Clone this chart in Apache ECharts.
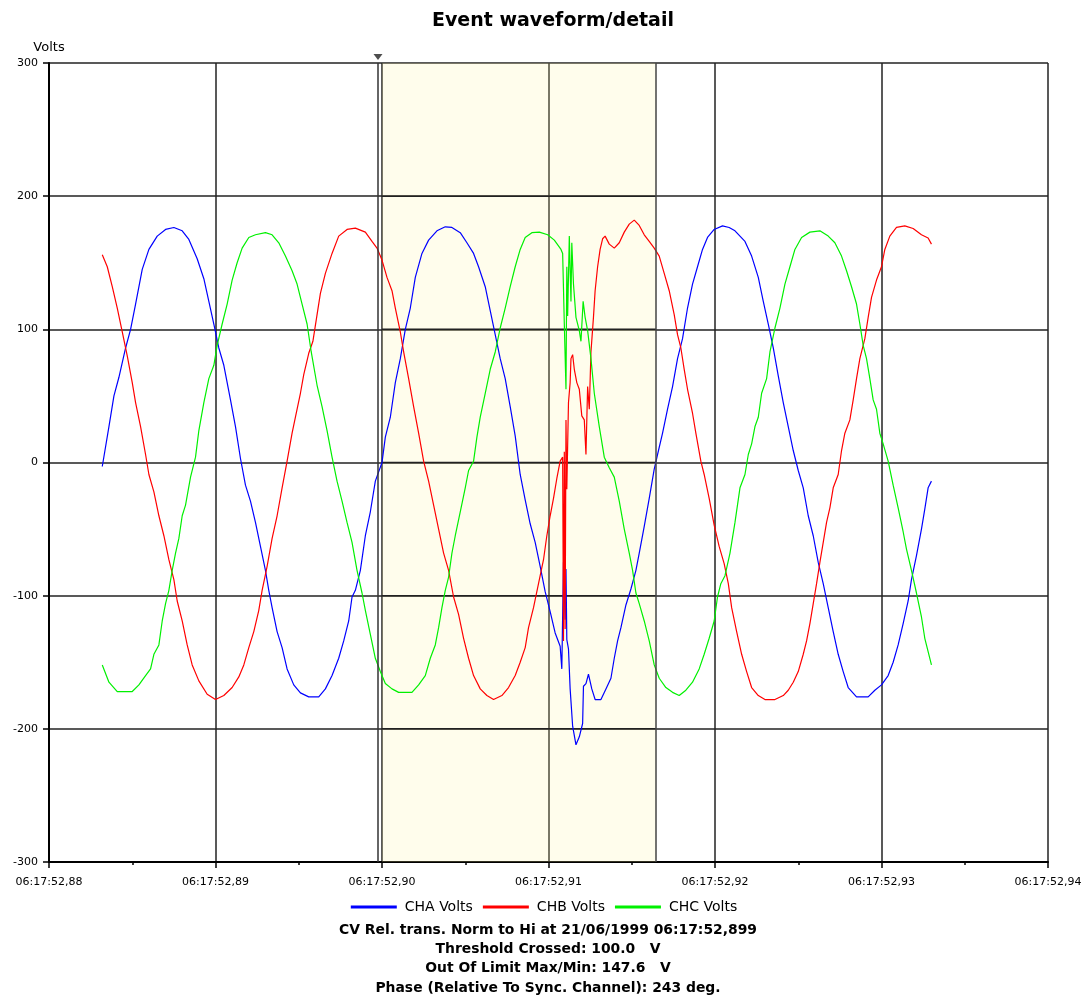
<!DOCTYPE html>
<html><head><meta charset="utf-8">
<script src="https://cdn.jsdelivr.net/npm/echarts@6/dist/echarts.min.js"></script>
<style>html,body{margin:0;padding:0;background:#fff}#chart{width:1088px;height:1008px}</style>
</head><body><div id="chart"></div>
<script>
// time axis: milliseconds after 06:17:52,880
const xTickLabels = ['06:17:52,88','06:17:52,89','06:17:52,90','06:17:52,91','06:17:52,92','06:17:52,93','06:17:52,94'];
const seriesNames = ['CHA Volts','CHB Volts','CHC Volts'];
const titleText = 'Event waveform/detail';
const yAxisName = 'Volts';
const footerLines = [
  'CV Rel. trans. Norm to Hi at 21/06/1999 06:17:52,899',
  'Threshold Crossed: 100.0   V',
  'Out Of Limit Max/Min: 147.6   V',
  'Phase (Relative To Sync. Channel): 243 deg.'
];
const bandRange = [20, 36.46];
const triggerTime = 19.76;
const yGridValues = [-200, -100, 0, 100, 200];

const chaTime = [3.2,3.6,3.9,4.2,4.6,4.9,5.2,5.6,6.0,6.5,7.0,7.5,8.0,8.4,8.9,9.3,9.6,9.9,10.2,10.5,10.9,11.2,11.5,11.8,12.1,12.4,12.7,13.0,13.2,13.4,13.7,14.0,14.3,14.7,15.1,15.6,16.2,16.6,17.0,17.4,17.7,18.0,18.2,18.4,18.7,19.0,19.3,19.6,20.0,20.2,20.5,20.8,21.1,21.4,21.7,22.0,22.4,22.8,23.3,23.8,24.2,24.7,25.1,25.5,25.8,26.2,26.5,26.8,27.1,27.4,27.7,28.0,28.3,28.6,28.9,29.2,29.5,29.8,30.1,30.4,30.7,30.8,30.9,31.0,31.05,31.1,31.2,31.3,31.45,31.65,31.85,32.05,32.1,32.25,32.4,32.6,32.8,33.15,33.45,33.75,33.95,34.15,34.35,34.65,34.95,35.25,35.45,35.75,36.05,36.35,36.55,36.85,37.15,37.45,37.75,38.05,38.35,38.65,38.95,39.25,39.55,39.95,40.45,40.85,41.2,41.8,42.2,42.6,42.9,43.2,43.5,43.8,44.1,44.4,44.7,45.0,45.3,45.6,45.9,46.2,46.5,46.8,47.1,47.4,47.7,48.0,48.5,49.2,49.6,50.0,50.4,50.7,51.0,51.3,51.6,51.8,52.1,52.4,52.6,52.8,53.0];
const chaVolts = [-3,27,50,64,86,100,119,145,160,170,175,176.5,174,167.5,153,138,121,104,86,73,47,27,3,-17,-29,-45,-63,-81,-96,-109,-127,-139,-155,-167,-173,-176,-176,-170,-160,-147,-134,-119,-101,-96,-81,-55,-37,-14,0,19,34,60,78,100,116,139,157,167,174,177,176.5,172.6,165,157,147,132,114,96,78,63,42,20,-9,-28,-46,-60,-78,-97,-112,-128,-138,-155,-75,-118,-80,-133,-140,-170,-198,-212,-206,-196,-168,-166,-159,-170,-178,-178,-170,-162,-147,-134,-124,-107,-95,-81,-68,-48,-27,-5,6,22,40,57,78,93,116,134,147,160,169,175,177.7,176.5,174,166,155,139,121,104,86,65,45,27,9,-6,-19,-40,-55,-75,-91,-109,-127,-144,-157,-169,-176,-176,-171,-167,-160,-150,-137,-121,-104,-88,-70,-50,-35,-19,-14];

const chbTime = [3.2,3.5,3.8,4.1,4.4,4.7,5.0,5.2,5.5,5.8,6.0,6.3,6.6,6.9,7.2,7.5,7.7,8.0,8.3,8.6,9.0,9.5,10.0,10.5,11.0,11.4,11.7,12.0,12.3,12.6,12.8,13.1,13.4,13.7,14.0,14.3,14.6,14.8,15.1,15.3,15.6,15.85,16.1,16.3,16.6,17.0,17.4,17.9,18.4,19.0,19.4,19.7,20.0,20.3,20.6,20.8,21.1,21.3,21.6,21.9,22.2,22.5,22.8,23.1,23.4,23.7,24.0,24.3,24.6,24.9,25.2,25.5,25.9,26.3,26.7,27.2,27.6,28.0,28.3,28.6,28.8,29.1,29.4,29.7,29.9,30.1,30.3,30.5,30.7,30.85,30.9,30.95,31.0,31.05,31.1,31.2,31.3,31.35,31.45,31.55,31.7,31.85,32.0,32.15,32.25,32.35,32.45,32.55,32.7,32.8,32.95,33.1,33.25,33.4,33.65,33.95,34.25,34.55,34.85,35.15,35.45,35.75,36.05,36.35,36.65,36.95,37.25,37.55,37.75,37.95,38.15,38.35,38.65,38.85,39.15,39.35,39.65,39.95,40.25,40.55,40.8,41.0,41.3,41.6,41.9,42.2,42.6,43.0,43.6,44.1,44.4,44.7,45.0,45.3,45.5,45.7,45.9,46.1,46.3,46.5,46.7,46.9,47.1,47.4,47.6,47.8,48.1,48.3,48.5,48.7,49.0,49.2,49.4,49.7,50.0,50.2,50.5,50.9,51.4,51.9,52.4,52.8,53.0];
const chbVolts = [156,147,132,116,98,80,60,45,27,6,-9,-22,-40,-55,-73,-88,-104,-119,-137,-152,-164,-174,-178,-175,-169,-161,-152,-139,-127,-111,-96,-78,-57,-40,-19,1,22,34,52,66,82,91,111,127,142,157,170,175,176,173,166,161,152,139,129,116,98,83,63,42,22,1,-14,-32,-50,-68,-81,-101,-114,-132,-147,-160,-170,-175,-178,-175,-169,-160,-150,-139,-124,-109,-91,-73,-55,-40,-27,-12,1,4,-134,8,-125,32,-20,45,60,78,81,70,60,55,35,32,6,57,40,83,109,129,147,160,168,170,164,161,165,173,179,182,178,171,166,161,155,142,129,111,96,86,70,55,37,22,1,-9,-27,-47,-63,-76,-91,-109,-127,-144,-157,-169,-175,-178,-178,-175,-171,-165,-157,-144,-134,-121,-106,-91,-75,-60,-45,-34,-19,-9,9,22,32,47,63,78,93,109,124,137,147,160,170,176.5,177.7,175.7,171,168.6,164];

const chcTime = [3.2,3.6,4.1,5.0,5.4,5.8,6.1,6.3,6.6,6.8,7.0,7.2,7.4,7.6,7.8,8.0,8.2,8.5,8.8,9.0,9.3,9.6,9.9,10.1,10.4,10.7,11.0,11.3,11.6,12.0,12.4,13.0,13.4,13.8,14.2,14.6,14.9,15.2,15.5,15.75,16.1,16.4,16.7,17.0,17.3,17.6,17.9,18.2,18.5,18.8,19.0,19.3,19.6,19.9,20.2,20.6,21.0,21.8,22.2,22.6,22.9,23.2,23.4,23.6,23.8,24.0,24.2,24.4,24.7,25.0,25.2,25.5,25.7,25.9,26.2,26.5,26.8,27.1,27.4,27.7,28.0,28.3,28.6,29.0,29.45,29.95,30.35,30.75,30.85,30.95,31.05,31.1,31.15,31.25,31.35,31.4,31.5,31.65,31.85,31.95,32.08,32.2,32.35,32.55,32.75,33.05,33.35,33.65,33.95,34.25,34.55,34.85,35.05,35.25,35.45,35.75,36.05,36.35,36.65,37.05,37.45,37.85,38.25,38.65,39.05,39.35,39.65,39.95,40.15,40.35,40.6,40.9,41.2,41.5,41.8,42.0,42.2,42.4,42.6,42.8,43.1,43.3,43.6,43.9,44.2,44.5,44.8,45.2,45.7,46.3,46.8,47.2,47.6,47.9,48.2,48.5,48.7,48.9,49.1,49.3,49.5,49.7,49.9,50.1,50.4,50.7,51.0,51.3,51.5,51.8,52.1,52.4,52.6,52.8,53.0];
const chcVolts = [-152,-165,-172,-172,-167,-160,-155,-144,-137,-119,-106,-96,-81,-68,-57,-40,-32,-11,4,24,45,63,73,88,104,119,137,150,161,169,171,172.6,171,165,155,144,134,119,104,83,58,42,24,4,-14,-29,-45,-60,-81,-98,-111,-129,-147,-157,-166,-170,-172.6,-172.6,-167,-160,-147,-137,-124,-109,-96,-86,-68,-55,-37,-19,-6,1,19,34,52,70,83,101,116,132,147,160,169,172.6,173,171,167,160,157,104,55,147,110,170,121,165,134,109,99,91,121,109,99,78,52,27,4,-4,-11,-29,-50,-68,-81,-98,-106,-119,-134,-152,-162,-169,-172.6,-175,-171,-165,-155,-144,-132,-119,-101,-91,-85,-68,-45,-19,-9,6,14,27,34,52,63,83,101,116,134,147,160,169,173,174,170,165,155,144,132,119,104,88,78,63,47,40,22,14,1,-17,-34,-52,-65,-81,-98,-116,-132,-142,-152];

const seriesColors = ['#0000ff', '#ff0000', '#00f000'];
const pair = (ts, vs) => ts.map((t, i) => [t, vs[i]]);
const font = '"DejaVu Sans", Verdana, sans-serif';
const gridColor = '#222';

const chart = echarts.init(document.getElementById('chart'), null, {renderer: 'canvas'});
const waveData = [pair(chaTime, chaVolts), pair(chbTime, chbVolts), pair(chcTime, chcVolts)];

const gridLineSeries = yGridValues.map(v => ({
  name: 'grid' + v, type: 'line', z: 2, silent: true,
  data: [[bandRange[0], v], [bandRange[1], v]],
  showSymbol: false, symbol: 'none',
  lineStyle: {color: gridColor, width: 1.5},
  emphasis: {disabled: true}
}));

const option = {
  animation: false,
  backgroundColor: '#ffffff',
  title: {
    text: titleText, left: 427, top: 7,
    textStyle: {fontFamily: font, fontSize: 19, fontWeight: 'bold', color: '#000'}
  },
  legend: {
    data: seriesNames, top: 895, left: 'center',
    icon: 'rect', itemWidth: 46, itemHeight: 3, itemGap: 10,
    textStyle: {fontFamily: font, fontSize: 14, color: '#000', padding: [0,0,0,3]}
  },
  grid: {left: 49, right: 40, top: 63, bottom: 146, containLabel: false},
  xAxis: {
    type: 'value', min: 0, max: 60, interval: 10,
    axisLine: {show: true, onZero: false, lineStyle: {color: '#000', width: 2}},
    axisTick: {show: true, length: 6, lineStyle: {color: '#000', width: 1.5}},
    minorTick: {show: true, splitNumber: 2, length: 3, lineStyle: {color: '#000', width: 1.5}},
    splitLine: {show: true, lineStyle: {color: gridColor, width: 1.5}},
    axisLabel: {
      margin: 15, color: '#000', fontFamily: font, fontSize: 11,
      formatter: v => xTickLabels[Math.round(v / 10)]
    }
  },
  yAxis: {
    type: 'value', min: -300, max: 300, interval: 100,
    name: yAxisName, nameLocation: 'end', nameGap: 9,
    nameTextStyle: {fontFamily: font, fontSize: 13, color: '#000', align: 'center'},
    axisLine: {show: true, onZero: false, lineStyle: {color: '#000', width: 2}},
    axisTick: {show: true, length: 6, lineStyle: {color: '#000', width: 1.5}},
    splitLine: {show: true, lineStyle: {color: gridColor, width: 1.5}},
    axisLabel: {margin: 11, color: '#000', fontFamily: font, fontSize: 11}
  },
  series: [
    {
      name: 'band', type: 'line', z: 1, silent: true,
      data: [[bandRange[0], 300], [bandRange[1], 300]],
      showSymbol: false, symbol: 'none',
      lineStyle: {width: 0, opacity: 0},
      areaStyle: {origin: 'start', color: 'rgba(255,244,160,0.28)'},
      markLine: {
        silent: true, symbol: ['none', 'none'], label: {show: false},
        lineStyle: {color: '#333', width: 1.5, type: 'solid'},
        data: [{xAxis: triggerTime}, {xAxis: bandRange[1], lineStyle: {color: '#444'}}]
      }
    },
    ...gridLineSeries,
    ...seriesNames.map((n, i) => ({
      name: n, type: 'line', data: waveData[i], z: 3,
      showSymbol: false, symbol: 'none', clip: true,
      lineStyle: {color: seriesColors[i], width: 1.2},
      itemStyle: {color: seriesColors[i]}
    })),
    {
      name: 'trigger', type: 'scatter', data: [[triggerTime, 300]], z: 5, silent: true, clip: false,
      symbol: 'triangle', symbolRotate: 180, symbolSize: [9, 6], symbolOffset: [0, -6],
      itemStyle: {color: '#222'}
    }
  ],
  graphic: footerLines.map((t, i) => ({
    type: 'text', x: 548, y: 930 + i * 19.4,
    style: {text: t, textAlign: 'center', textVerticalAlign: 'middle',
      font: 'bold 13.9px ' + font, fill: '#000'}
  }))
};
chart.setOption(option);
</script>
</body></html>
